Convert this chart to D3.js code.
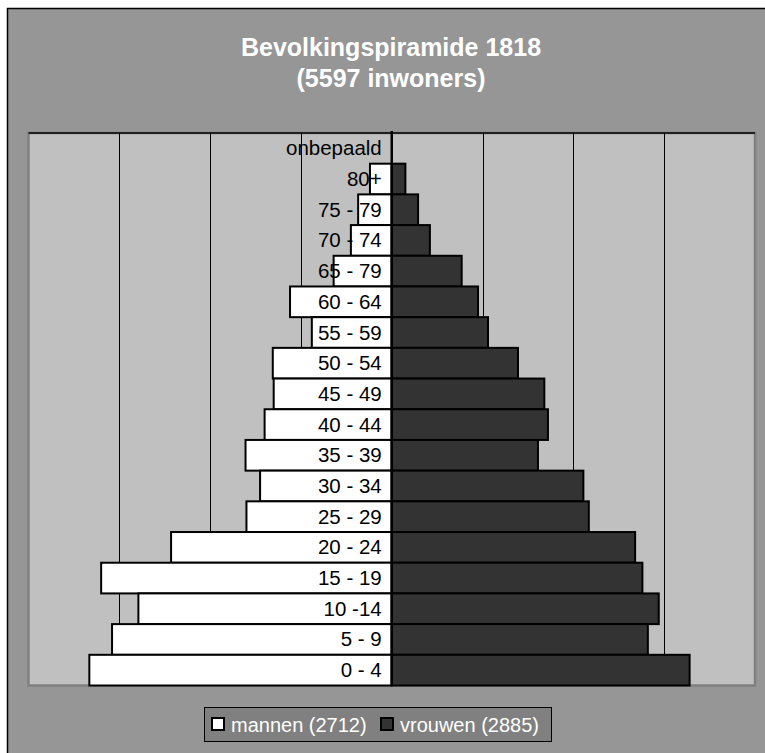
<!DOCTYPE html>
<html>
<head>
<meta charset="utf-8">
<script src="https://cdn.jsdelivr.net/npm/d3@7"></script>
<style>
  body { margin: 0; background: #fff; }
  svg { display: block; font-family: "Liberation Sans", Arial, sans-serif; }
</style>
</head>
<body>
<div id="chart"></div>
<script>
// age groups, top to bottom as shown
var ageGroups = ["onbepaald", "80+", "75 - 79", "70 - 74", "65 - 79", "60 - 64", "55 - 59",
  "50 - 54", "45 - 49", "40 - 44", "35 - 39", "30 - 34", "25 - 29", "20 - 24",
  "15 - 19", "10 -14", "5 - 9", "0 - 4"];

// counts per age group (same order)
var mannen  = [0, 24, 37, 45, 64, 112, 88, 131, 130, 140, 161, 145, 160, 243, 320, 279, 308, 333];
var vrouwen = [0, 15, 29, 42, 77, 95, 106, 139, 168, 172, 161, 211, 217, 268, 276, 294, 282, 328];

var seriesNames = ["mannen (2712)", "vrouwen (2885)"];
var titleLines = ["Bevolkingspiramide 1818", "(5597 inwoners)"];
var gridTicks = [-300, -200, -100, 100, 200, 300];

var W = 765, H = 753;
var plot = {left: 28.5, right: 755, top: 133, bottom: 685.5};

var svg = d3.select("#chart").append("svg")
  .attr("width", W)
  .attr("height", H);

// chart area background
svg.append("rect")
  .attr("x", 7.5).attr("y", 8.5)
  .attr("width", W).attr("height", H)
  .attr("fill", "#969696")
  .attr("stroke", "#000").attr("stroke-width", 1.5);

// title
svg.selectAll(".title")
  .data(titleLines)
  .enter().append("text")
  .attr("class", "title")
  .attr("x", 391)
  .attr("y", function(d, i) { return 56 + i * 31; })
  .attr("text-anchor", "middle")
  .attr("fill", "#fff")
  .attr("font-weight", "bold")
  .attr("font-size", "25px")
  .text(function(d) { return d; });

//scales
var x = d3.scaleLinear().domain([-400, 400]).range([plot.left, plot.right]);
var y = d3.scaleBand().domain(ageGroups).range([plot.top, plot.bottom]).padding(0);

// plot area
svg.append("rect")
  .attr("x", plot.left).attr("y", plot.top)
  .attr("width", plot.right - plot.left).attr("height", plot.bottom - plot.top)
  .attr("fill", "#c0c0c0")
  .attr("stroke", "#808080").attr("stroke-width", 2.5);

svg.append("line")
  .attr("x1", plot.left).attr("x2", plot.right)
  .attr("y1", plot.top).attr("y2", plot.top)
  .attr("stroke", "#000").attr("stroke-width", 1.5);

// vertical gridlines
svg.selectAll(".grid")
  .data(gridTicks)
  .enter().append("line")
  .attr("class", "grid")
  .attr("x1", function(d) { return Math.round(x(d)) + 0.5; })
  .attr("x2", function(d) { return Math.round(x(d)) + 0.5; })
  .attr("y1", plot.top).attr("y2", plot.bottom)
  .attr("stroke", "#000").attr("stroke-width", 1);

var rows = ageGroups.map(function(g, i) {
  return {group: g, m: mannen[i], v: vrouwen[i]};
});

// men bars (left)
svg.selectAll(".man")
  .data(rows.filter(function(d) { return d.m > 0; }))
  .enter().append("rect")
  .attr("class", "man")
  .attr("x", function(d) { return x(-d.m); })
  .attr("y", function(d) { return y(d.group); })
  .attr("width", function(d) { return x(0) - x(-d.m); })
  .attr("height", y.bandwidth())
  .attr("fill", "#fff")
  .attr("stroke", "#000").attr("stroke-width", 2);

// women bars (right)
svg.selectAll(".vrouw")
  .data(rows.filter(function(d) { return d.v > 0; }))
  .enter().append("rect")
  .attr("class", "vrouw")
  .attr("x", x(0))
  .attr("y", function(d) { return y(d.group); })
  .attr("width", function(d) { return x(d.v) - x(0); })
  .attr("height", y.bandwidth())
  .attr("fill", "#333333")
  .attr("stroke", "#000").attr("stroke-width", 2);

// center axis
svg.append("line")
  .attr("x1", x(0)).attr("x2", x(0))
  .attr("y1", plot.top - 2).attr("y2", plot.bottom)
  .attr("stroke", "#000").attr("stroke-width", 2.5);

// category labels
svg.selectAll(".lbl")
  .data(ageGroups)
  .enter().append("text")
  .attr("class", "lbl")
  .attr("x", x(0) - 10)
  .attr("y", function(d) { return y(d) + y.bandwidth() / 2 + 7; })
  .attr("text-anchor", "end")
  .attr("font-size", "20.5px")
  .attr("fill", "#000")
  .text(function(d) { return d; });

// legend
var legend = svg.append("g");
legend.append("rect")
  .attr("x", 204.5).attr("y", 707.5)
  .attr("width", 347).attr("height", 34)
  .attr("fill", "#808080")
  .attr("stroke", "#000").attr("stroke-width", 1);

var legendX = [212, 381];
var legendFill = ["#fff", "#333333"];
seriesNames.forEach(function(name, i) {
  legend.append("rect")
    .attr("x", legendX[i]).attr("y", 718)
    .attr("width", 12).attr("height", 12)
    .attr("fill", legendFill[i])
    .attr("stroke", "#000").attr("stroke-width", 2);
  legend.append("text")
    .attr("x", legendX[i] + 19).attr("y", 731.5)
    .attr("font-size", "20px")
    .attr("fill", "#fff")
    .text(name);
});
</script>
</body>
</html>
